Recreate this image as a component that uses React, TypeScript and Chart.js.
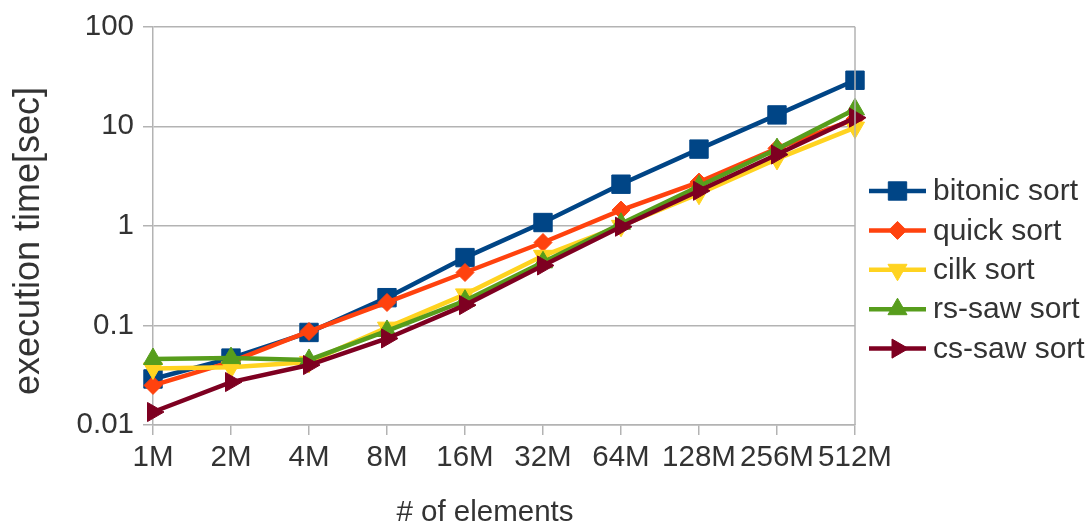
import React, { useEffect, useRef } from 'react';
import { Chart, registerables } from 'chart.js';
import { drawPoint } from 'chart.js/helpers';

Chart.register(...registerables);

const categories = ['1M', '2M', '4M', '8M', '16M', '32M', '64M', '128M', '256M', '512M'];
const seriesNames = ['bitonic sort', 'quick sort', 'cilk sort', 'rs-saw sort', 'cs-saw sort'];
const bitonic = [0.029, 0.047, 0.085, 0.19, 0.48, 1.08, 2.62, 5.9, 13, 29];
const quick = [0.025, 0.043, 0.087, 0.17, 0.34, 0.68, 1.44, 2.75, 6.0, 11.8];
const cilk = [0.037, 0.038, 0.043, 0.095, 0.205, 0.5, 1.0, 2.1, 4.7, 9.7];
const rsSaw = [0.046, 0.047, 0.045, 0.088, 0.177, 0.43, 1.05, 2.5, 5.9, 14.8];
const csSaw = [0.0135, 0.027, 0.04, 0.074, 0.16, 0.4, 0.98, 2.25, 5.2, 12.2];
const yTicks = [0.01, 0.1, 1, 10, 100];
const yTitle = 'execution time[sec]';
const xTitle = '# of elements';

const colors = ['#004586', '#ff420e', '#ffd320', '#579d1c', '#7e0021'];
const pointStyles = ['rect', 'rectRot', 'triangle', 'triangle', 'triangle'];
const pointRotations = [0, 0, 180, 0, 90];
const pointRadii = [13, 9, 11, 11, 11];

const FONT = '"Liberation Sans", Arial, sans-serif';
const TEXT = '#333333';
const GRID = '#b3b3b3';

const extrasPlugin = {
  id: 'extras',
  afterDraw(chart: any) {
    const ctx = chart.ctx as CanvasRenderingContext2D;
    const area = chart.chartArea;
    ctx.save();
    // right border of plot area
    ctx.strokeStyle = GRID;
    ctx.lineWidth = 1.5;
    ctx.beginPath();
    ctx.moveTo(area.right, area.top);
    ctx.lineTo(area.right, area.bottom);
    ctx.stroke();

    // x title
    ctx.fillStyle = TEXT;
    ctx.font = `29.5px ${FONT}`;
    ctx.textAlign = 'center';
    ctx.textBaseline = 'middle';
    ctx.fillText(xTitle, 485, 513);

    // y title
    ctx.font = `36px ${FONT}`;
    ctx.translate(29, 241);
    ctx.rotate(-Math.PI / 2);
    ctx.fillText(yTitle, 0, 0);
    ctx.restore();

    // legend
    ctx.save();
    const x0 = 869;
    const x1 = 926;
    const rowY0 = 191;
    const rowStep = 39.4;
    chart.data.datasets.forEach((ds: any, i: number) => {
      const y = rowY0 + i * rowStep;
      ctx.strokeStyle = ds.borderColor;
      ctx.lineWidth = 4.5;
      ctx.beginPath();
      ctx.moveTo(x0, y);
      ctx.lineTo(x1, y);
      ctx.stroke();
      ctx.fillStyle = ds.pointBackgroundColor;
      ctx.strokeStyle = ds.pointBorderColor;
      ctx.lineWidth = 1;
      drawPoint(ctx, {
        pointStyle: ds.pointStyle,
        rotation: ds.pointRotation,
        radius: ds.pointRadius,
        borderWidth: 1,
      } as any, (x0 + x1) / 2, y);
      ctx.fillStyle = TEXT;
      ctx.font = `30px ${FONT}`;
      ctx.textAlign = 'left';
      ctx.textBaseline = 'middle';
      ctx.fillText(ds.label, 933, y + 1);
    });
    ctx.restore();
  },
};

export default function App() {
  const canvasRef = useRef<HTMLCanvasElement | null>(null);

  useEffect(() => {
    const canvas = canvasRef.current;
    if (!canvas) return;
    const seriesValues = [bitonic, quick, cilk, rsSaw, csSaw];
    const chart = new Chart(canvas, {
      type: 'line',
      data: {
        labels: categories,
        datasets: seriesValues.map((vals, i) => ({
          label: seriesNames[i],
          data: vals,
          borderColor: colors[i],
          backgroundColor: colors[i],
          pointBackgroundColor: colors[i],
          pointBorderColor: colors[i],
          pointBorderWidth: 1,
          pointStyle: pointStyles[i],
          pointRotation: pointRotations[i],
          pointRadius: pointRadii[i],
          borderWidth: 4.5,
          tension: 0,
          fill: false,
          order: seriesValues.length - i,
        })),
      },
      options: {
        animation: false,
        responsive: true,
        maintainAspectRatio: false,
        layout: { padding: { top: 26, right: 233, bottom: 0, left: 0 } },
        plugins: {
          legend: { display: false },
          tooltip: { enabled: false },
        },
        scales: {
          x: {
            type: 'category',
            offset: false,
            grid: {
              display: true,
              drawOnChartArea: false,
              drawTicks: true,
              tickLength: 10,
              color: GRID,
              lineWidth: 1.5,
            },
            border: { display: true, color: GRID, width: 1.5 },
            ticks: {
              autoSkip: false,
              maxRotation: 0,
              minRotation: 0,
              padding: 5,
              color: TEXT,
              font: { family: FONT, size: 29.5 },
            },
            title: { display: false },
            afterFit(scale: any) {
              scale.height = 100;
            },
          },
          y: {
            type: 'logarithmic',
            min: 0.01,
            max: 100,
            afterBuildTicks(scale: any) {
              scale.ticks = yTicks.map((v) => ({ value: v }));
            },
            grid: {
              color: GRID,
              lineWidth: 1.5,
              tickLength: 10,
              drawTicks: true,
            },
            border: { display: true, color: GRID, width: 1.5 },
            ticks: {
              padding: 9,
              color: TEXT,
              font: { family: FONT, size: 29.5 },
              callback: (v: any) => (yTicks.includes(Number(v)) ? String(v) : ''),
            },
            afterFit(scale: any) {
              scale.width = 153;
            },
          },
        },
      },
      plugins: [extrasPlugin],
    } as any);
    return () => chart.destroy();
  }, []);

  return (
    <div style={{ position: 'absolute', left: 0, top: 0, width: 1088, height: 525, background: '#ffffff' }}>
      <canvas ref={canvasRef} />
    </div>
  );
}
